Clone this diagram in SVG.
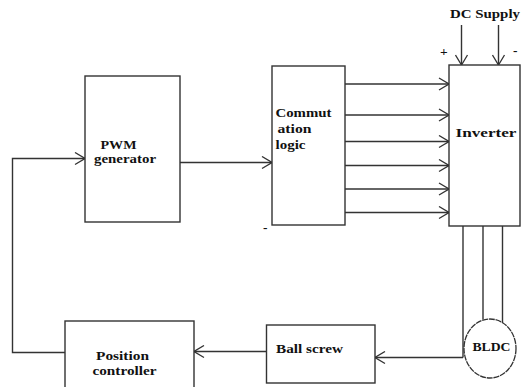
<svg xmlns="http://www.w3.org/2000/svg" width="521" height="387" viewBox="0 0 521 387">
  <style>
    .box { fill: #fff; stroke: #333; stroke-width: 1.4; }
    .wire { fill: none; stroke: #333; stroke-width: 1.4; }
    .lbl { font-family: "Liberation Serif", "DejaVu Serif", serif; font-weight: bold; font-size: 13.5px; fill: #111; }
  </style>
  <defs>
    <marker id="arrow" markerUnits="userSpaceOnUse" markerWidth="12" markerHeight="14" viewBox="0 0 12 14" refX="11" refY="7" orient="auto">
      <path d="M1,1 L11,7 L1,13" fill="none" stroke="#333" stroke-width="1.3"/>
    </marker>
  </defs>
  <rect width="521" height="387" fill="#fff"/>

  <g id="connectors">
    <!-- DC supply inputs -->
    <line class="wire" x1="461.5" y1="25" x2="461.5" y2="65" marker-end="url(#arrow)"/>
    <line class="wire" x1="498.5" y1="25" x2="498.5" y2="65" marker-end="url(#arrow)"/>
    <!-- gate signals to inverter -->
    <line class="wire" x1="345" y1="84" x2="449" y2="84" marker-end="url(#arrow)"/>
    <line class="wire" x1="345" y1="115" x2="449" y2="115" marker-end="url(#arrow)"/>
    <line class="wire" x1="345" y1="141.5" x2="449" y2="141.5" marker-end="url(#arrow)"/>
    <line class="wire" x1="345" y1="165.5" x2="449" y2="165.5" marker-end="url(#arrow)"/>
    <line class="wire" x1="345" y1="189" x2="449" y2="189" marker-end="url(#arrow)"/>
    <line class="wire" x1="343" y1="212.5" x2="449" y2="212.5" marker-end="url(#arrow)"/>
    <!-- PWM to commutation logic -->
    <line class="wire" x1="180" y1="162.5" x2="272" y2="162.5" marker-end="url(#arrow)"/>
    <!-- three phases to motor -->
    <line class="wire" x1="463" y1="226" x2="463" y2="357.5"/>
    <line class="wire" x1="483" y1="226" x2="483" y2="319.5"/>
    <line class="wire" x1="502.5" y1="226" x2="502.5" y2="325"/>
    <!-- motor to ball screw -->
    <line class="wire" x1="463" y1="357.5" x2="375" y2="357.5" marker-end="url(#arrow)"/>
    <!-- ball screw to position controller -->
    <line class="wire" x1="266.5" y1="351.5" x2="194" y2="351.5" marker-end="url(#arrow)"/>
    <!-- feedback to PWM generator -->
    <polyline class="wire" points="65,352.5 12.5,352.5 12.5,158.5 85,158.5" marker-end="url(#arrow)"/>
  </g>

  <g id="dc-supply">
    <text class="lbl" x="450" y="18" textLength="70" lengthAdjust="spacingAndGlyphs">DC Supply</text>
    <text class="lbl" x="440" y="56" font-size="12">+</text>
    <text class="lbl" x="513" y="55" font-size="12">-</text>
  </g>

  <g id="pwm-generator">
    <rect class="box" x="85" y="76" width="95" height="146"/>
    <text class="lbl" x="100.5" y="149" textLength="36" lengthAdjust="spacingAndGlyphs">PWM</text>
    <text class="lbl" x="94" y="163" textLength="62" lengthAdjust="spacingAndGlyphs">generator</text>
  </g>

  <g id="commutation-logic">
    <rect class="box" x="272" y="66" width="73" height="159"/>
    <text class="lbl" x="275.5" y="117" textLength="56" lengthAdjust="spacingAndGlyphs">Commut</text>
    <text class="lbl" x="277.5" y="133" textLength="34" lengthAdjust="spacingAndGlyphs">ation</text>
    <text class="lbl" x="275.5" y="149" textLength="30" lengthAdjust="spacingAndGlyphs">logic</text>
    <text class="lbl" x="263" y="232" font-size="9" font-weight="normal">-</text>
  </g>

  <g id="inverter">
    <rect class="box" x="449" y="65" width="71" height="161"/>
    <text class="lbl" x="455.5" y="137" textLength="61" lengthAdjust="spacingAndGlyphs">Inverter</text>
  </g>

  <g id="bldc-motor">
    <ellipse cx="490" cy="348.5" rx="26" ry="29.5" fill="#fff" stroke="#333" stroke-width="1.3" stroke-dasharray="6,0.8"/>
    <text class="lbl" x="472.5" y="351" textLength="38" lengthAdjust="spacingAndGlyphs">BLDC</text>
  </g>

  <g id="ball-screw">
    <rect class="box" x="266.5" y="325" width="108.5" height="58"/>
    <text class="lbl" x="276" y="353" textLength="67" lengthAdjust="spacingAndGlyphs">Ball screw</text>
  </g>

  <g id="position-controller">
    <rect class="box" x="65" y="321" width="129" height="70"/>
    <text class="lbl" x="96" y="360" textLength="53" lengthAdjust="spacingAndGlyphs">Position</text>
    <text class="lbl" x="92.5" y="375" textLength="64" lengthAdjust="spacingAndGlyphs">controller</text>
  </g>
</svg>
